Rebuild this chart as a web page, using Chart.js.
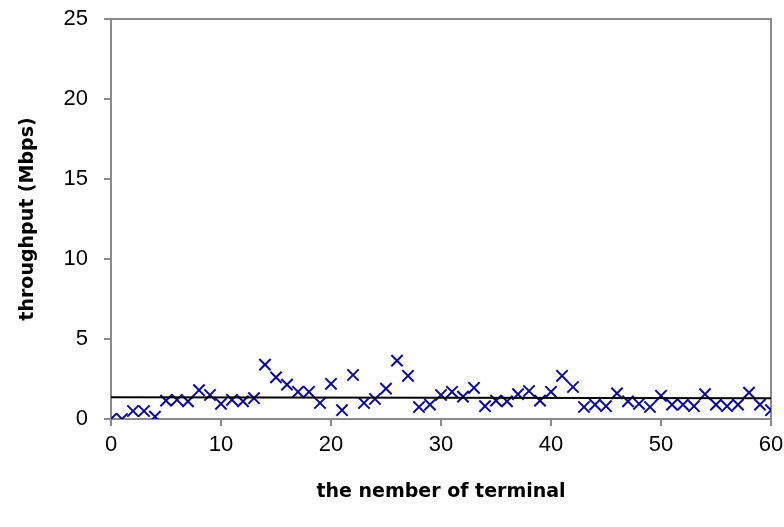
<!DOCTYPE html>
<html lang="en">
<head>
    <meta charset="UTF-8">
    <title>Throughput per terminal</title>
    <script src="https://cdn.jsdelivr.net/npm/chart.js"></script>
    <style>
        html, body { margin: 0; padding: 0; background: #fff; }
        #wrap { width: 784px; height: 527px; }
    </style>
</head>
<body>
    <div id="wrap"><canvas id="throughputChart" width="784" height="527"></canvas></div>

    <script>
        // terminal number and measured throughput (Mbps)
        const terminals = [
            0, 1, 2, 3, 4, 5, 6, 7, 8, 9,
            10, 11, 12, 13, 14, 15, 16, 17, 18, 19,
            20, 21, 22, 23, 24, 25, 26, 27, 28, 29,
            30, 31, 32, 33, 34, 35, 36, 37, 38, 39,
            40, 41, 42, 43, 44, 45, 46, 47, 48, 49,
            50, 51, 52, 53, 54, 55, 56, 57, 58, 59, 60
        ];
        const throughput = [
            0.0, 0.0, 0.5, 0.5, 0.15, 1.15, 1.2, 1.1, 1.8, 1.5,
            0.95, 1.2, 1.1, 1.3, 3.4, 2.6, 2.15, 1.7, 1.7, 1.0,
            2.2, 0.55, 2.75, 1.0, 1.25, 1.9, 3.65, 2.7, 0.75, 0.9,
            1.5, 1.7, 1.4, 1.95, 0.8, 1.15, 1.1, 1.55, 1.75, 1.15,
            1.7, 2.7, 2.0, 0.75, 0.9, 0.8, 1.6, 1.1, 0.95, 0.75,
            1.45, 0.9, 0.9, 0.8, 1.55, 0.9, 0.8, 0.9, 1.65, 0.9, 0.55
        ];
        // linear trend line end points
        const trendX = [0, 60];
        const trendY = [1.36, 1.29];

        const xTicks = [0, 10, 20, 30, 40, 50, 60];
        const yTicks = [0, 5, 10, 15, 20, 25];

        const axisGray = '#8a8a8a';
        const tickFont = { family: '"Liberation Sans", Arial, sans-serif', size: 22 };
        const titleFont = { family: '"DejaVu Sans", sans-serif', size: 19, weight: 'bold' };

        // gray frame on top and right of the plot area
        const frame = {
            id: 'frame',
            beforeDatasetsDraw(chart) {
                const { ctx, chartArea: a } = chart;
                ctx.save();
                ctx.strokeStyle = axisGray;
                ctx.lineWidth = 2;
                ctx.beginPath();
                ctx.moveTo(a.left, a.top);
                ctx.lineTo(a.right, a.top);
                ctx.lineTo(a.right, a.bottom);
                ctx.stroke();
                ctx.restore();
            }
        };

        // drop the end-label overflow so layout.padding alone sets the plot edges
        function noEdgePadding(s) {
            s.paddingTop = 0;
            s.paddingBottom = 0;
            s.paddingLeft = 0;
            s.paddingRight = 0;
        }

        new Chart(document.getElementById('throughputChart'), {
            type: 'scatter',
            data: {
                datasets: [{
                    label: 'throughput',
                    data: terminals.map((t, i) => ({ x: t, y: throughput[i] })),
                    pointStyle: 'crossRot',
                    pointRadius: 8,
                    pointBorderWidth: 2,
                    borderColor: '#0a0a9a',
                    backgroundColor: '#0a0a9a',
                    order: 2
                }, {
                    type: 'line',
                    label: 'trend',
                    data: trendX.map((t, i) => ({ x: t, y: trendY[i] })),
                    borderColor: '#000',
                    borderWidth: 2,
                    pointRadius: 0,
                    fill: false,
                    order: 1
                }]
            },
            options: {
                responsive: false,
                animation: false,
                layout: { padding: { top: 19, right: 13, left: 0, bottom: 0 } },
                plugins: {
                    legend: { display: false },
                    tooltip: { enabled: false }
                },
                scales: {
                    x: {
                        type: 'linear',
                        min: 0,
                        max: 60,
                        afterBuildTicks: s => { s.ticks = xTicks.map(v => ({ value: v })); },
                        afterFit: s => { s.height = 108; noEdgePadding(s); },
                        border: { color: axisGray, width: 2 },
                        grid: { drawOnChartArea: false, color: axisGray, lineWidth: 2, tickLength: 7 },
                        ticks: { color: '#000', font: tickFont, padding: 6, maxRotation: 0 },
                        title: {
                            display: true,
                            text: 'the nember of terminal',
                            color: '#000',
                            font: titleFont,
                            padding: { bottom: 24 }
                        }
                    },
                    y: {
                        min: 0,
                        max: 25,
                        afterBuildTicks: s => { s.ticks = yTicks.map(v => ({ value: v })); },
                        afterFit: s => { s.width = 111; noEdgePadding(s); },
                        border: { color: axisGray, width: 2 },
                        grid: { drawOnChartArea: false, color: axisGray, lineWidth: 2, tickLength: 7 },
                        ticks: { color: '#000', font: tickFont, padding: 16 },
                        title: {
                            display: true,
                            text: 'throughput (Mbps)',
                            color: '#000',
                            font: titleFont,
                            padding: { top: 17 }
                        }
                    }
                }
            },
            plugins: [frame]
        });
    </script>
</body>
</html>
